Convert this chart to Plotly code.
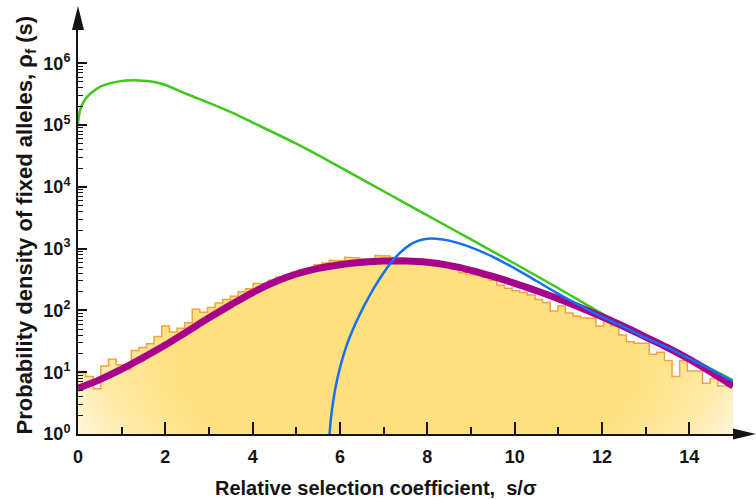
import plotly.graph_objects as go

# ---------------------------------------------------------------- data
S_MAX = 15.0
N_BINS = 86

# simulated density of fixed alleles, one value per bin of width S_MAX / N_BINS
hist_density = [
    9.8, 8.5, 5.4, 12.6, 16.2, 13.2, 11.2, 22.4, 25.1, 28.8,
    38.0, 56.2, 44.7, 51.3, 63.1, 105, 93.3, 112, 132, 151,
    170, 200, 224, 275, 269, 309, 347, 372, 417, 447,
    479, 550, 589, 646, 631, 724, 708, 676, 676, 776,
    759, 724, 708, 692, 661, 631, 617, 589, 537, 468,
    407, 380, 372, 347, 309, 257, 229, 209, 195, 178,
    151, 135, 98, 118, 91, 81, 76, 74, 56, 66,
    56, 40, 31, 29.5, 29.5, 19.5, 21, 15.5, 8.5, 15.5,
    10.5, 10.5, 6.6, 7.9, 6.0, 6.0,
]

# theory curves
green_s = [0, 0.05, 0.1, 0.2, 0.3, 0.5, 0.75, 1.0, 1.25, 1.5, 1.75, 2.0, 2.5, 3.0,
           3.5, 4.0, 5.0, 6.0, 7.0, 8.0, 9.0, 10.0, 11.0, 12.0, 13.0, 14.0, 15.0]
green_rho = [1.05e5, 1.78e5, 2.19e5, 2.82e5, 3.31e5, 4.17e5, 4.79e5, 5.19e5, 5.31e5,
             5.25e5, 5.0e5, 4.47e5, 3.16e5, 2.29e5, 1.62e5, 1.10e5, 5.0e4, 2.09e4,
             8.5e3, 3.47e3, 1.41e3, 575, 229, 89, 38, 17, 7.4]

blue_s = [5.76, 5.80, 5.86, 5.94, 6.04, 6.16, 6.30, 6.45, 6.6, 6.8, 7.0, 7.2, 7.4, 7.6,
          7.8, 8.0, 8.2, 8.5, 9.0, 9.5, 10.0, 10.5, 11.0, 11.5, 12.0, 12.5, 13.0,
          13.5, 14.0, 14.5, 15.0]
blue_rho = [1.0, 2.0, 4.0, 7.9, 15.1, 28.2, 50.1, 85.1, 138, 245, 407, 631, 891, 1150,
            1350, 1450, 1450, 1350, 1050, 740, 480, 300, 186, 120, 79, 54, 36,
            25, 16.6, 11, 7.1]

purple_s = [0, 0.5, 1.0, 1.5, 2.0, 2.5, 3.0, 3.5, 4.0, 4.5, 5.0, 5.5, 6.0, 6.5, 7.0,
            7.5, 8.0, 8.5, 9.0, 9.5, 10.0, 10.5, 11.0, 11.5, 12.0, 12.5, 13.0, 13.5,
            14.0, 14.5, 15.0]
purple_rho = [5.5, 7.6, 11.2, 17.4, 27.5, 45.7, 75.9, 123, 195, 288, 389, 479, 550,
              603, 631, 631, 603, 537, 447, 355, 275, 209, 155, 112, 79, 55, 37,
              25, 16.2, 10, 6.0]

x_tick_vals = [0, 2, 4, 6, 8, 10, 12, 14]
y_tick_vals = [1, 10, 100, 1e3, 1e4, 1e5, 1e6]
y_tick_text = ["10<sup>0</sup>", "10<sup>1</sup>", "10<sup>2</sup>", "10<sup>3</sup>",
               "10<sup>4</sup>", "10<sup>5</sup>", "10<sup>6</sup>"]

# ---------------------------------------------------------------- styling
INK = "#141414"
FONT = "Liberation Sans, Arial, sans-serif"
YELLOW_SCALE = [[0.0, "#FFE07E"], [0.6, "#FFE07E"], [0.8, "#FFE9A6"],
                [0.95, "#FFF8E4"], [1.0, "#FFFBEF"]]

width = S_MAX / N_BINS
edges = [i * width for i in range(N_BINS + 1)]

# stepped outline of the histogram
step_x, step_y = [], []
for i, v in enumerate(hist_density):
    step_x += [edges[i], edges[i + 1]]
    step_y += [v, v]

# filled body: the stepped outline closed below the axis; the two thin
# spikes outside the plotting window set the gradient's bounding box
XL, XR, YB, YT = -1.2, 16.3, 0.0091, 27000
fill_x = [XL, XL, XL, 0] + step_x + [S_MAX, XR, XR, XR, XL]
fill_y = [YB, YT, YB, YB] + step_y + [YB, YB, YT, YB, YB]

fig = go.Figure()

fig.add_trace(go.Scatter(
    x=fill_x, y=fill_y, mode="lines", fill="toself",
    line=dict(width=0, color="rgba(0,0,0,0)"),
    fillgradient=dict(type="radial", colorscale=YELLOW_SCALE),
    hoverinfo="skip", showlegend=False,
))
fig.add_trace(go.Scatter(
    x=step_x, y=step_y, mode="lines",
    line=dict(color="#F3A23F", width=1.5),
    showlegend=False,
))
fig.add_trace(go.Scatter(
    x=green_s, y=green_rho, mode="lines", line_shape="spline",
    line=dict(color="#3DC81B", width=2.5), showlegend=False,
))
fig.add_trace(go.Scatter(
    x=purple_s, y=purple_rho, mode="lines", line_shape="spline",
    line=dict(color="#A8008A", width=7), showlegend=False,
))
fig.add_trace(go.Scatter(
    x=blue_s, y=blue_rho, mode="lines", line_shape="spline",
    line=dict(color="#1570EF", width=2.5), showlegend=False,
))

minor_y = [m * 10 ** k for k in range(0, 6) for m in range(2, 10)]

fig.update_xaxes(
    range=[0, S_MAX], showgrid=False, zeroline=False,
    showline=True, linecolor=INK, linewidth=2,
    tickvals=x_tick_vals, ticks="inside", ticklen=12, tickwidth=2, tickcolor=INK,
    minor=dict(dtick=1, tick0=0, ticks="inside", ticklen=7, tickwidth=1.5, tickcolor=INK),
    tickfont=dict(family=FONT, size=18, color=INK, weight="bold"),
    ticklabelstandoff=5,
)
fig.update_yaxes(
    type="log", range=[0, 6.54], showgrid=False, zeroline=False,
    showline=True, linecolor=INK, linewidth=2,
    tickvals=y_tick_vals, ticktext=y_tick_text,
    ticks="inside", ticklen=9, tickwidth=2, tickcolor=INK,
    minor=dict(tickvals=minor_y, ticks="inside", ticklen=5, tickwidth=1.2, tickcolor=INK),
    tickfont=dict(family=FONT, size=18, color=INK, weight="bold"),
    ticklabelstandoff=2,
)

# arrow heads at the ends of both axes
fig.add_shape(type="path", xref="paper", yref="paper", xsizemode="pixel", ysizemode="pixel",
              xanchor=0, yanchor=1, path="M -6,0 L 6,0 L 0,24 Z",
              fillcolor=INK, line=dict(width=0), layer="above")
fig.add_shape(type="path", xref="paper", yref="paper", xsizemode="pixel", ysizemode="pixel",
              xanchor=1, yanchor=0, path="M 0,5.5 L 23,0 L 0,-5.5 Z",
              fillcolor=INK, line=dict(width=0), layer="above")

fig.add_annotation(
    text="Relative selection coefficient,\u00a0 s/σ",
    xref="paper", yref="paper", x=0.4557, y=-0.134, xanchor="center", yanchor="middle",
    showarrow=False, font=dict(family=FONT, size=20, color=INK, weight="bold"),
)
fig.add_annotation(
    text="Probability density of fixed alleles, ρ<sub>f</sub> (s)",
    xref="paper", yref="paper", x=-0.0794, y=0.5186, xanchor="center", yanchor="middle",
    textangle=-90, showarrow=False,
    font=dict(family=FONT, size=22, color=INK, weight="bold"),
)

fig.update_layout(
    width=756, height=500,
    margin=dict(l=78, r=23, t=30, b=66),
    paper_bgcolor="white", plot_bgcolor="white",
    showlegend=False,
)

fig.write_html("out.html")
